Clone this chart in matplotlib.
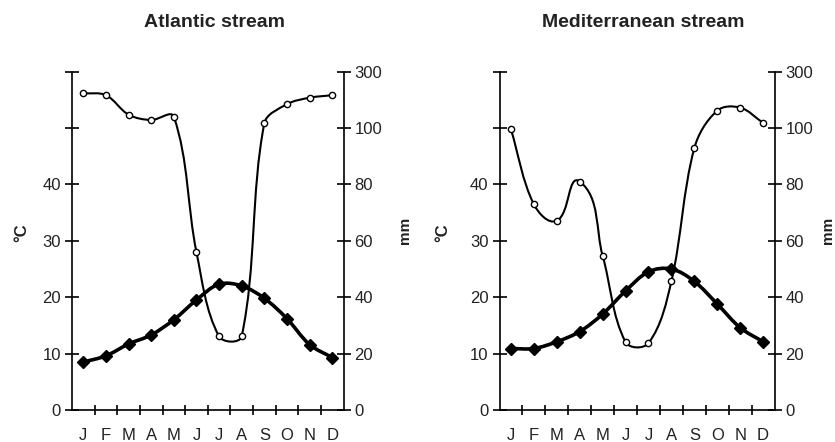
import matplotlib
matplotlib.use("Agg")
import matplotlib.pyplot as plt
from matplotlib.path import Path
from matplotlib.patches import PathPatch
import numpy as np

plt.rcParams['font.family'] = ['Liberation Sans', 'DejaVu Sans']

months = ["J", "F", "M", "A", "M", "J", "J", "A", "S", "O", "N", "D"]

# Atlantic stream: temperature (degC) and rainfall (mm)
atl_temp = [8.5, 9.6, 11.7, 13.3, 16.0, 19.5, 22.3, 22.0, 19.8, 16.2, 11.6, 9.3]
atl_rain = [112.3, 111.6, 104.7, 102.8, 104.0, 56.0, 26.1, 26.1, 101.6, 108.4, 110.7, 111.6]

# Mediterranean stream
med_temp = [10.9, 10.9, 12.1, 13.9, 17.0, 21.1, 24.5, 25.0, 22.8, 18.8, 14.6, 12.1]
med_rain = [99.5, 72.9, 67.1, 81.0, 54.7, 24.1, 23.7, 45.6, 92.8, 106.1, 107.2, 101.8]

temp_ticks = [0, 10, 20, 30, 40, 50, 60]
temp_labels = ["0", "10", "20", "30", "40", "", ""]
rain_ticks = [0, 20, 40, 60, 80, 100, 120]
rain_labels = ["0", "20", "40", "60", "80", "100", "300"]

TXT = '#222222'


def smooth_line(ax, x, y, lw, t=1/3.):
	# excel-like smoothed line, built in screen space
	pts = ax.transData.transform(np.column_stack([x, y]))
	n = len(pts)
	verts = [pts[0]]
	codes = [Path.MOVETO]
	for i in range(n - 1):
		p0, p1 = pts[i], pts[i + 1]
		a = pts[max(i - 1, 0)]
		b = pts[min(i + 2, n - 1)]
		d0 = (p1 - a) / np.hypot(*(p1 - a))
		d1 = (b - p0) / np.hypot(*(b - p0))
		L = np.hypot(*(p1 - p0))
		verts += [p0 + d0 * L * t, p1 - d1 * L * t, p1]
		codes += [Path.CURVE4] * 3
	verts = ax.transData.inverted().transform(np.array(verts))
	ax.add_patch(PathPatch(Path(verts, codes), fill=False, lw=lw,
		edgecolor='black', capstyle='round', joinstyle='round', zorder=3))


def panel(fig, rect, title, tx, temp, rain, cx, mx):
	ax = fig.add_axes(rect)
	ax.set_xlim(0, 12)
	ax.set_ylim(0, 60)
	ax2 = ax.twinx()
	ax2.set_ylim(0, 120)
	ax2.set_xlim(0, 12)
	ax.set_zorder(2)
	ax.patch.set_visible(False)

	for s in ["top", "right"]:
		ax.spines[s].set_visible(False)
	for s in ["top", "left", "bottom"]:
		ax2.spines[s].set_visible(False)
	for s in ax.spines.values():
		s.set_linewidth(1.2)
	ax2.spines["right"].set_linewidth(1.2)

	xc = np.arange(len(months)) + 0.5
	ax.set_xticks(np.arange(1, 12))
	ax.set_xticklabels([])
	ax.set_xticks(xc, minor=True)
	ax.set_xticklabels(months, minor=True)
	ax.tick_params(axis='x', which='major', direction='inout', length=7, width=1.2)
	ax.tick_params(axis='x', which='minor', length=0, pad=13, labelsize=12, labelcolor=TXT)

	ax.set_yticks(temp_ticks)
	ax.set_yticklabels(temp_labels)
	ax.tick_params(axis='y', direction='inout', length=10, width=1.2, pad=3,
		labelsize=12, labelcolor=TXT)
	ax2.set_yticks(rain_ticks)
	ax2.set_yticklabels(rain_labels)
	ax2.tick_params(axis='y', direction='inout', length=10, width=1.2, pad=3,
		labelsize=12, labelcolor=TXT)

	smooth_line(ax2, xc, rain, 1.5)
	ax2.plot(xc, rain, linestyle='none', marker='o', markersize=4.5,
		markerfacecolor='white', markeredgecolor='black', markeredgewidth=1, zorder=4)
	smooth_line(ax, xc, temp, 2.6)
	ax.plot(xc, temp, linestyle='none', marker='D', markersize=6.5,
		color='black', zorder=4)

	fig.text(tx, 0.948, title, ha='center', va='center', fontsize=14,
		fontweight='bold', color=TXT)
	fig.text(cx, 0.473, "°C", ha='center', va='center', rotation=90,
		fontsize=12, fontweight='bold', color=TXT)
	fig.text(mx, 0.478, "mm", ha='center', va='center', rotation=90,
		fontsize=11, fontweight='bold', color=TXT)


fig = plt.figure(figsize=(8.35, 4.42), dpi=100)
panel(fig, [72 / 835, 32 / 442, 271.5 / 835, 338.5 / 442], "Atlantic stream",
	215 / 835, atl_temp, atl_rain, 22 / 835, 405 / 835)
panel(fig, [499.5 / 835, 32 / 442, 275 / 835, 338.5 / 442], "Mediterranean stream",
	643 / 835, med_temp, med_rain, 443 / 835, 828 / 835)
fig.savefig("out.png", dpi=100)
